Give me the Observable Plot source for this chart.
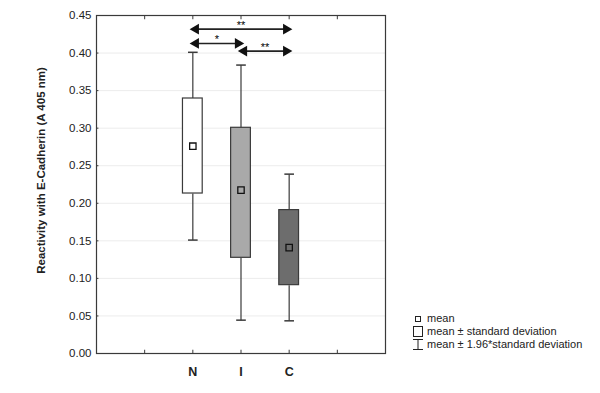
<!DOCTYPE html>
<html>
<head>
<meta charset="utf-8">
<script src="https://cdn.jsdelivr.net/npm/d3@7"></script>
<script src="https://cdn.jsdelivr.net/npm/@observablehq/plot@0.6"></script>
<style>
  html, body { margin: 0; padding: 0; background: #fff; }
  #wrap { position: relative; width: 600px; height: 393px; font-family: "Liberation Sans", Arial, sans-serif; }
  #legend { position: absolute; left: 412px; top: 312px; font-size: 11px; color: #222; line-height: 13px; }
  #legend .row { display: flex; align-items: center; height: 13px; }
  #legend svg { margin-right: 2px; }
</style>
</head>
<body>
<div id="wrap"></div>
<script>
// ---- data ----
const categories = ["N", "I", "C"];
const catPos = [2, 3, 4];
const xTickLabels = ["", "N", "I", "C", ""];
const means = [0.276, 0.2175, 0.141];
const sdLow = [0.213, 0.1274, 0.091];
const sdHigh = [0.3395, 0.3005, 0.1909];
const ciLow = [0.151, 0.0444, 0.0435];
const ciHigh = [0.401, 0.384, 0.2388];
const boxFill = ["#ffffff", "#a9a9a9", "#6d6d6d"];
const compFrom = ["N", "N", "I"];
const compTo = ["C", "I", "C"];
const compY = [0.4318, 0.4128, 0.4026];
const compLabel = ["**", "*", "**"];
const yTicks = [0, 0.05, 0.10, 0.15, 0.20, 0.25, 0.30, 0.35, 0.40, 0.45];
const legendLabels = ["mean", "mean \u00b1 standard deviation", "mean \u00b1 1.96*standard deviation"];

const pos = c => catPos[categories.indexOf(c)];
const rows = categories.map((c, i) => ({
  c, x: catPos[i], mean: means[i], lo: sdLow[i], hi: sdHigh[i],
  wlo: ciLow[i], whi: ciHigh[i], fill: boxFill[i]
}));
const comps = compFrom.map((f, i) => ({ x1: pos(f), x2: pos(compTo[i]), y: compY[i], label: compLabel[i] }));
const xTicks = [1, 2, 3, 4, 5];

const bw = 0.205, cw = 0.1;
const stroke = "#3a3a3a";

const chart = Plot.plot({
  width: 600, height: 393,
  marginLeft: 96, marginRight: 215, marginTop: 15, marginBottom: 40,
  style: { fontFamily: "Liberation Sans, Arial, sans-serif", fontSize: "11.5px", color: "#222" },
  x: { domain: [0, 6], axis: null },
  y: { domain: [0, 0.45], axis: null },
  marks: [
    Plot.gridY(yTicks, { stroke: "#ececec", strokeOpacity: 1 }),
    Plot.axisY(yTicks, { tickSize: 0, tickPadding: 5, tickFormat: d3.format(".2f"),
      label: "Reactivity with E-Cadherin (A 405 nm)", labelAnchor: "center", labelOffset: 60, labelArrow: "none",
      fontSize: 11.5 }),
    Plot.link(yTicks, { y1: d => d, y2: d => d, x1: () => 0, x2: () => 0.04, stroke: stroke }),
    Plot.axisX(xTicks, { tickSize: 0, tickPadding: 14, tickFormat: d => xTickLabels[d - 1], fontWeight: "bold", fontSize: 12.5, label: null }),
    Plot.link(xTicks, { x1: d => d, x2: d => d, y1: () => 0, y2: () => 0.005, stroke: stroke }),
    Plot.link(xTicks, { x1: d => d, x2: d => d, y1: () => 0.445, y2: () => 0.45, stroke: stroke }),
    // whiskers
    Plot.link(rows, { x1: "x", x2: "x", y1: "wlo", y2: "lo", stroke: stroke, strokeWidth: 1.2 }),
    Plot.link(rows, { x1: "x", x2: "x", y1: "hi", y2: "whi", stroke: stroke, strokeWidth: 1.2 }),
    Plot.link(rows, { x1: d => d.x - cw, x2: d => d.x + cw, y1: "wlo", y2: "wlo", stroke: stroke, strokeWidth: 1.5 }),
    Plot.link(rows, { x1: d => d.x - cw, x2: d => d.x + cw, y1: "whi", y2: "whi", stroke: stroke, strokeWidth: 1.5 }),
    // boxes
    Plot.rect(rows, { x1: d => d.x - bw, x2: d => d.x + bw, y1: "lo", y2: "hi", fill: d => d.fill, stroke: stroke, strokeWidth: 1.2 }),
    // means
    Plot.dot(rows, { x: "x", y: "mean", symbol: "square", r: 3.6, fill: d => d.fill, stroke: "#111", strokeWidth: 1.3 }),
    // comparisons
    Plot.link(comps, { x1: "x1", x2: "x2", y1: "y", y2: "y", stroke: "#222", strokeWidth: 1.6 }),
    Plot.dot(comps, { x: "x1", y: "y", symbol: "triangle", r: 4, rotate: -90, dx: 3, fill: "#111", stroke: "none" }),
    Plot.dot(comps, { x: "x2", y: "y", symbol: "triangle", r: 4, rotate: 90, dx: -3, fill: "#111", stroke: "none" }),
    Plot.text(comps, { x: d => (d.x1 + d.x2) / 2, y: "y", text: "label", dy: -4, fontSize: 11, fill: "#000" }),
    Plot.frame({ stroke: "#3a3a3a", strokeWidth: 1.2 })
  ]
});
const wrap = document.getElementById("wrap");
wrap.appendChild(chart);

// y-axis label bold and shifted up a little
chart.querySelectorAll("g[aria-label='y-axis label'] text").forEach(t => {
  t.setAttribute("font-weight", "bold"); t.setAttribute("font-size", "11.5"); t.setAttribute("dx", "14");
});

// legend
const legend = document.createElement("div");
legend.id = "legend";
const icons = [
  '<svg width="13" height="13"><rect x="3.5" y="4.5" width="5" height="5" fill="#fff" stroke="#222"/></svg>',
  '<svg width="13" height="13"><rect x="1.5" y="1.5" width="9" height="10" fill="#fff" stroke="#222"/></svg>',
  '<svg width="13" height="13"><path d="M1 1.5H11M6 1.5V11.5M1 11.5H11" stroke="#222" fill="none"/></svg>'
];
legendLabels.forEach((l, i) => {
  const r = document.createElement("div");
  r.className = "row";
  r.innerHTML = icons[i] + "<span>" + l + "</span>";
  legend.appendChild(r);
});
wrap.appendChild(legend);
</script>
</body>
</html>
